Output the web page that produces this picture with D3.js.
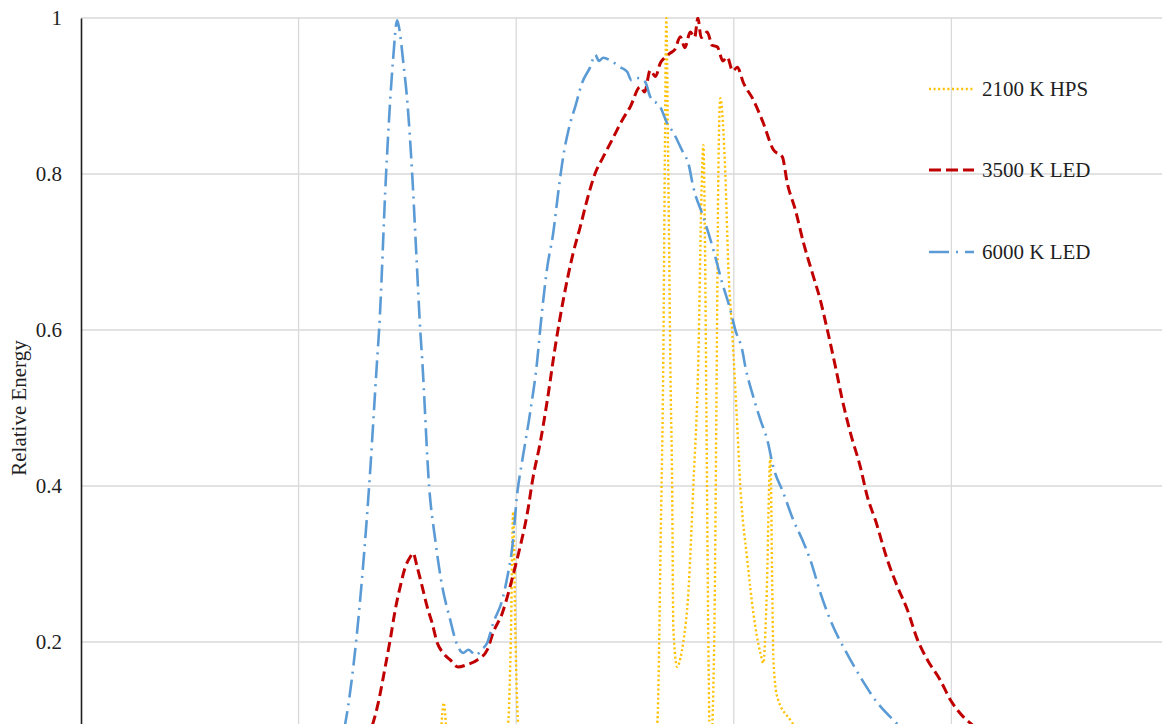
<!DOCTYPE html>
<html>
<head>
<meta charset="utf-8">
<script src="https://cdn.jsdelivr.net/npm/d3@7"></script>
<style>
  body { margin: 0; background: #fff; }
  svg { display: block; overflow: hidden; }
</style>
</head>
<body>
<div id="container"></div>
<script>
// Spectra: [wavelength nm, relative energy]
var hps2100 = [
  [380,0.005],[440,0.015],[462,0.025],[465,0.07],[466.7,0.122],[468.4,0.07],[472,0.03],
  [492,0.035],[496.3,0.095],[497.5,0.2],[498.6,0.367],[499.7,0.2],[500.9,0.095],[504,0.04],
  [530,0.03],[555,0.04],[561,0.06],[564.8,0.095],[566.5,0.35],[567.6,0.562],[568.4,0.85],
  [569,1.0],[569.7,0.85],[570.3,0.7],[570.8,0.562],[571.7,0.391],[572.2,0.219],[574,0.168],
  [575.5,0.18],[576.8,0.2],[579.1,0.263],[581.4,0.4],[583.7,0.562],[585.2,0.78],[586,0.837],
  [586.8,0.7],[587.4,0.5],[588.3,0.2],[589.2,0.05],[591,0.2],[592,0.5],[592.9,0.8],
  [593.8,0.897],[596.1,0.8],[597.5,0.68],[599.3,0.596],[601.6,0.476],[603,0.399],[606.2,0.305],
  [609,0.237],[612.2,0.186],[613.6,0.173],[615,0.25],[616.8,0.437],[617.7,0.263],[618.2,0.177],
  [620,0.129],[626,0.1],[640,0.06],[670,0.035],[700,0.03],[760,0.02],[800,0.015]
];
var led3500 = [
  [380,0],[400,0.005],[415,0.02],[425,0.05],[430,0.07],[434.3,0.097],[436.6,0.122],[439.8,0.168],
  [442.1,0.203],[444.4,0.241],[446.7,0.271],[449,0.296],[451.3,0.309],[452.6,0.314],[454.5,0.296],
  [456.8,0.271],[459.1,0.245],[461.4,0.224],[463.7,0.199],[466.4,0.186],[469.7,0.177],[473.3,0.168],
  [477.5,0.171],[482.1,0.177],[486.7,0.19],[489.4,0.212],[493.6,0.237],[497.2,0.271],[499.5,0.296],
  [501.8,0.322],[505.1,0.365],[507.8,0.412],[511,0.455],[514.3,0.51],[517.9,0.578],[521.6,0.638],
  [526.2,0.699],[529.4,0.732],[532.6,0.767],[536.3,0.801],[540,0.822],[544.1,0.844],[548.7,0.869],
  [552.4,0.886],[557,0.912],[559,0.905],[561.6,0.933],[564,0.925],[566.2,0.942],[568.5,0.95],
  [570.8,0.955],[573,0.96],[575.4,0.976],[577.5,0.962],[580,0.982],[582,0.975],[583.5,1.0],
  [585,0.975],[587.8,0.982],[590,0.965],[592.4,0.963],[595,0.945],[597,0.95],[599.5,0.932],
  [601.6,0.937],[604.4,0.917],[609,0.895],[613.6,0.865],[618.2,0.831],[622.3,0.822],[624.6,0.788],
  [628.3,0.754],[632,0.712],[636.1,0.673],[639.8,0.638],[643,0.6],[646.7,0.553],[649.9,0.51],
  [653.6,0.468],[658.2,0.424],[661.4,0.386],[665.1,0.356],[670.6,0.305],[675.2,0.271],[679.8,0.241],
  [684.4,0.203],[689,0.177],[694.9,0.151],[699.5,0.126],[705.5,0.104],[708.7,0.096],[720,0.065],
  [740,0.03],[770,0.01],[800,0.004]
];
var led6000 = [
  [380,0],[400,0.005],[410,0.02],[416,0.05],[421.4,0.095],[426.4,0.2],[432.4,0.399],[436.1,0.562],
  [437,0.6],[440.2,0.8],[442.1,0.895],[443.4,0.946],[445.3,0.997],[446.7,0.978],[448,0.946],
  [449.9,0.895],[452.2,0.8],[454,0.703],[455.9,0.6],[456.8,0.562],[460,0.399],[462.8,0.331],
  [465.5,0.279],[469.7,0.228],[472.4,0.2],[475.6,0.186],[478,0.19],[481.6,0.183],[484,0.19],
  [486.7,0.199],[489.4,0.224],[493.6,0.254],[495.9,0.283],[498.2,0.322],[500.5,0.391],[502.8,0.433],
  [506.4,0.494],[509.7,0.562],[511,0.6],[514.3,0.681],[517,0.724],[519.3,0.776],[521.6,0.822],
  [524.8,0.865],[527.1,0.886],[530.3,0.917],[534,0.937],[536.3,0.953],[538,0.945],[540,0.949],
  [544.1,0.944],[547.8,0.937],[551,0.931],[553,0.92],[555.6,0.923],[559.3,0.918],[561.6,0.899],
  [566.2,0.886],[569.4,0.865],[572.2,0.853],[576.8,0.827],[579.1,0.814],[581.4,0.783],[586,0.745],
  [590.6,0.703],[594.7,0.66],[598.4,0.626],[600.7,0.6],[603.9,0.574],[605.3,0.553],[609,0.514],
  [612.2,0.485],[615.4,0.459],[618.2,0.424],[622.8,0.391],[627.4,0.356],[631.5,0.331],[635.2,0.305],
  [639.8,0.263],[644.4,0.228],[648,0.206],[650.3,0.194],[658.2,0.155],[666,0.122],[673.3,0.1],
  [690,0.06],[710,0.035],[740,0.015],[780,0.005],[800,0.002]
];
var seriesNames = ["2100 K HPS", "3500 K LED", "6000 K LED"];
var yTicks = [0, 0.2, 0.4, 0.6, 0.8, 1];
var xTicks = [300, 400, 500, 600, 700, 800];

var w = 1162;
var h = 724;
var plotLeft = 81, plotTop = 18, plotRight = 1169, plotBottom = 798;

var styles = [
  { color: "#FFC000", dash: "2,2.6", width: 2.4 },
  { color: "#C00000", dash: "10,5", width: 3 },
  { color: "#5B9BD5", dash: "18,6,2,6", width: 2.6 }
];

var svg = d3.select("#container")
  .append("svg")
  .attr("width", w)
  .attr("height", h);

var x = d3.scaleLinear().domain([300, 800]).range([plotLeft, plotRight]);
var y = d3.scaleLinear().domain([0, 1]).range([plotBottom, plotTop]);

// gridlines
svg.append("g")
  .selectAll("line")
  .data(yTicks)
  .enter()
  .append("line")
  .attr("x1", plotLeft).attr("x2", plotRight)
  .attr("y1", function(d){ return y(d); })
  .attr("y2", function(d){ return y(d); })
  .attr("stroke", "#d9d9d9")
  .attr("stroke-width", 1.3);

svg.append("g")
  .selectAll("line")
  .data(xTicks.slice(1))
  .enter()
  .append("line")
  .attr("y1", plotTop).attr("y2", plotBottom)
  .attr("x1", function(d){ return x(d); })
  .attr("x2", function(d){ return x(d); })
  .attr("stroke", "#d9d9d9")
  .attr("stroke-width", 1.3);

// y axis (the 0 label sits below the visible area)
var yAxis = svg.append("g")
  .attr("transform", "translate(" + plotLeft + ",0)")
  .call(d3.axisLeft(y).tickValues(yTicks.slice(1)).tickSize(0).tickPadding(19)
    .tickFormat(function(d){ return d3.format("")(d); }));
yAxis.select(".domain").attr("stroke", "#1f1f1f").attr("stroke-width", 1.6);
yAxis.selectAll("text")
  .attr("font-family", "'Liberation Serif', 'Times New Roman', serif")
  .attr("font-size", "21px")
  .attr("fill", "#1f1f1f");

svg.append("text")
  .attr("transform", "translate(26," + ((plotTop + plotBottom) / 2) + ") rotate(-90)")
  .attr("text-anchor", "middle")
  .attr("font-family", "'Liberation Serif', 'Times New Roman', serif")
  .attr("font-size", "21px")
  .attr("fill", "#1f1f1f")
  .text("Relative Energy");

// plot clip
svg.append("clipPath").attr("id", "plot")
  .append("rect")
  .attr("x", plotLeft).attr("y", plotTop - 1)
  .attr("width", plotRight - plotLeft).attr("height", plotBottom - plotTop + 1);

var line = d3.line()
  .x(function(d){ return x(d[0]); })
  .y(function(d){ return y(d[1]); })
  .curve(d3.curveMonotoneX);

var allSeries = [hps2100, led3500, led6000];

svg.append("g")
  .attr("clip-path", "url(#plot)")
  .selectAll("path")
  .data(allSeries)
  .enter()
  .append("path")
  .attr("d", line)
  .attr("fill", "none")
  .attr("stroke", function(d, i){ return styles[i].color; })
  .attr("stroke-width", function(d, i){ return styles[i].width; })
  .attr("stroke-dasharray", function(d, i){ return styles[i].dash; })
  .attr("stroke-linejoin", "round");

// legend
var legendY = [89, 170, 252];
var legend = svg.append("g")
  .selectAll("g")
  .data(seriesNames)
  .enter()
  .append("g")
  .attr("transform", function(d, i){ return "translate(929," + legendY[i] + ")"; });

legend.append("line")
  .attr("x1", 0).attr("x2", 45)
  .attr("stroke", function(d, i){ return styles[i].color; })
  .attr("stroke-width", function(d, i){ return styles[i].width; })
  .attr("stroke-dasharray", function(d, i){ return i == 1 ? "12,5" : i == 2 ? "20,7,2,7" : styles[i].dash; });

legend.append("text")
  .attr("x", 53)
  .attr("dy", "0.35em")
  .attr("font-family", "'Liberation Serif', 'Times New Roman', serif")
  .attr("font-size", "21px")
  .attr("fill", "#1f1f1f")
  .text(function(d){ return d; });
</script>
</body>
</html>
